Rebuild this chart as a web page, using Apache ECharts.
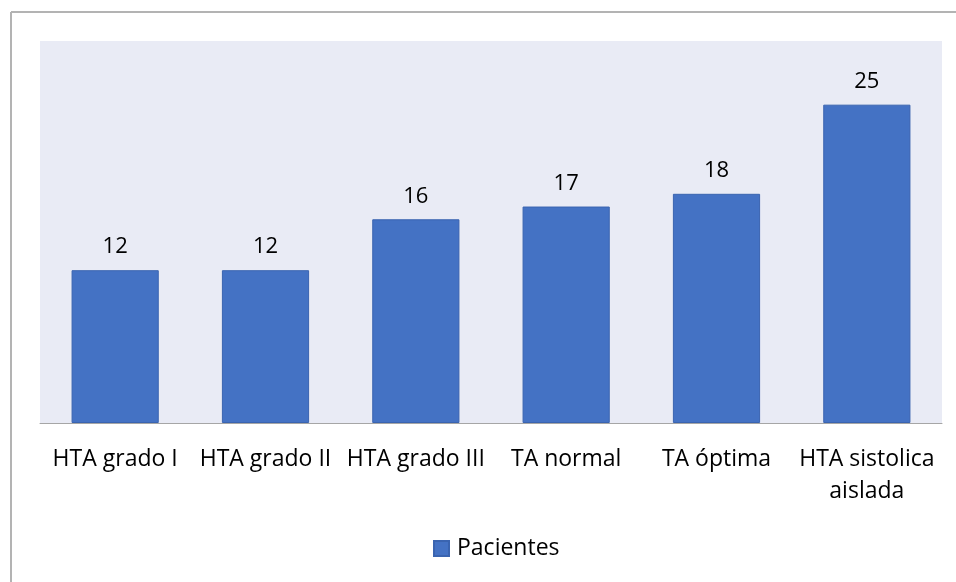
<!DOCTYPE html>
<html>
<head>
<meta charset="utf-8">
<script src="https://cdn.jsdelivr.net/npm/echarts@6/dist/echarts.min.js"></script>
<style>
html,body{margin:0;padding:0;background:#fff;}
#c{width:956px;height:582px;}
</style>
</head>
<body>
<div id="c"></div>
<script>
const categories = ["HTA grado I", "HTA grado II", "HTA grado III", "TA normal", "TA óptima", "HTA sistolica\naislada"];
const pacientes = [12, 12, 16, 17, 18, 25];
const seriesName = "Pacientes";

const chart = echarts.init(document.getElementById('c'));
const font = '"Open Sans", sans-serif';
chart.setOption({
  animation: false,
  graphic: [
    {type: 'line', shape: {x1: 11, y1: 12, x2: 956, y2: 12}, style: {stroke: '#b3b3b3', lineWidth: 2}},
    {type: 'line', shape: {x1: 11, y1: 12, x2: 11, y2: 582}, style: {stroke: '#b3b3b3', lineWidth: 2}}
  ],
  grid: {left: 40, right: 14, top: 41, bottom: 159, show: true, backgroundColor: '#E9EBF5', borderWidth: 0},
  legend: {
    bottom: 17, left: 428, itemWidth: 15, itemHeight: 15, itemGap: 7,
    icon: 'rect',
    textStyle: {fontFamily: font, fontSize: 23, color: '#000', padding: [0, 0, 0, 3]},
    data: [seriesName]
  },
  xAxis: {
    type: 'category', data: categories,
    axisTick: {show: false},
    axisLine: {lineStyle: {color: '#a6a6a6', width: 1}},
    axisLabel: {interval: 0, margin: 20, fontFamily: font, fontSize: 23, color: '#000', lineHeight: 32}
  },
  yAxis: {type: 'value', min: 0, max: 30, show: false, splitLine: {show: false}},
  series: [{
    name: seriesName, type: 'bar', data: pacientes,
    barCategoryGap: '42%',
    itemStyle: {color: '#4472C4', borderColor: '#3A64B0', borderWidth: 1},
    label: {show: true, position: 'top', distance: 12, fontFamily: font, fontSize: 22, color: '#000'}
  }]
});
</script>
</body>
</html>
